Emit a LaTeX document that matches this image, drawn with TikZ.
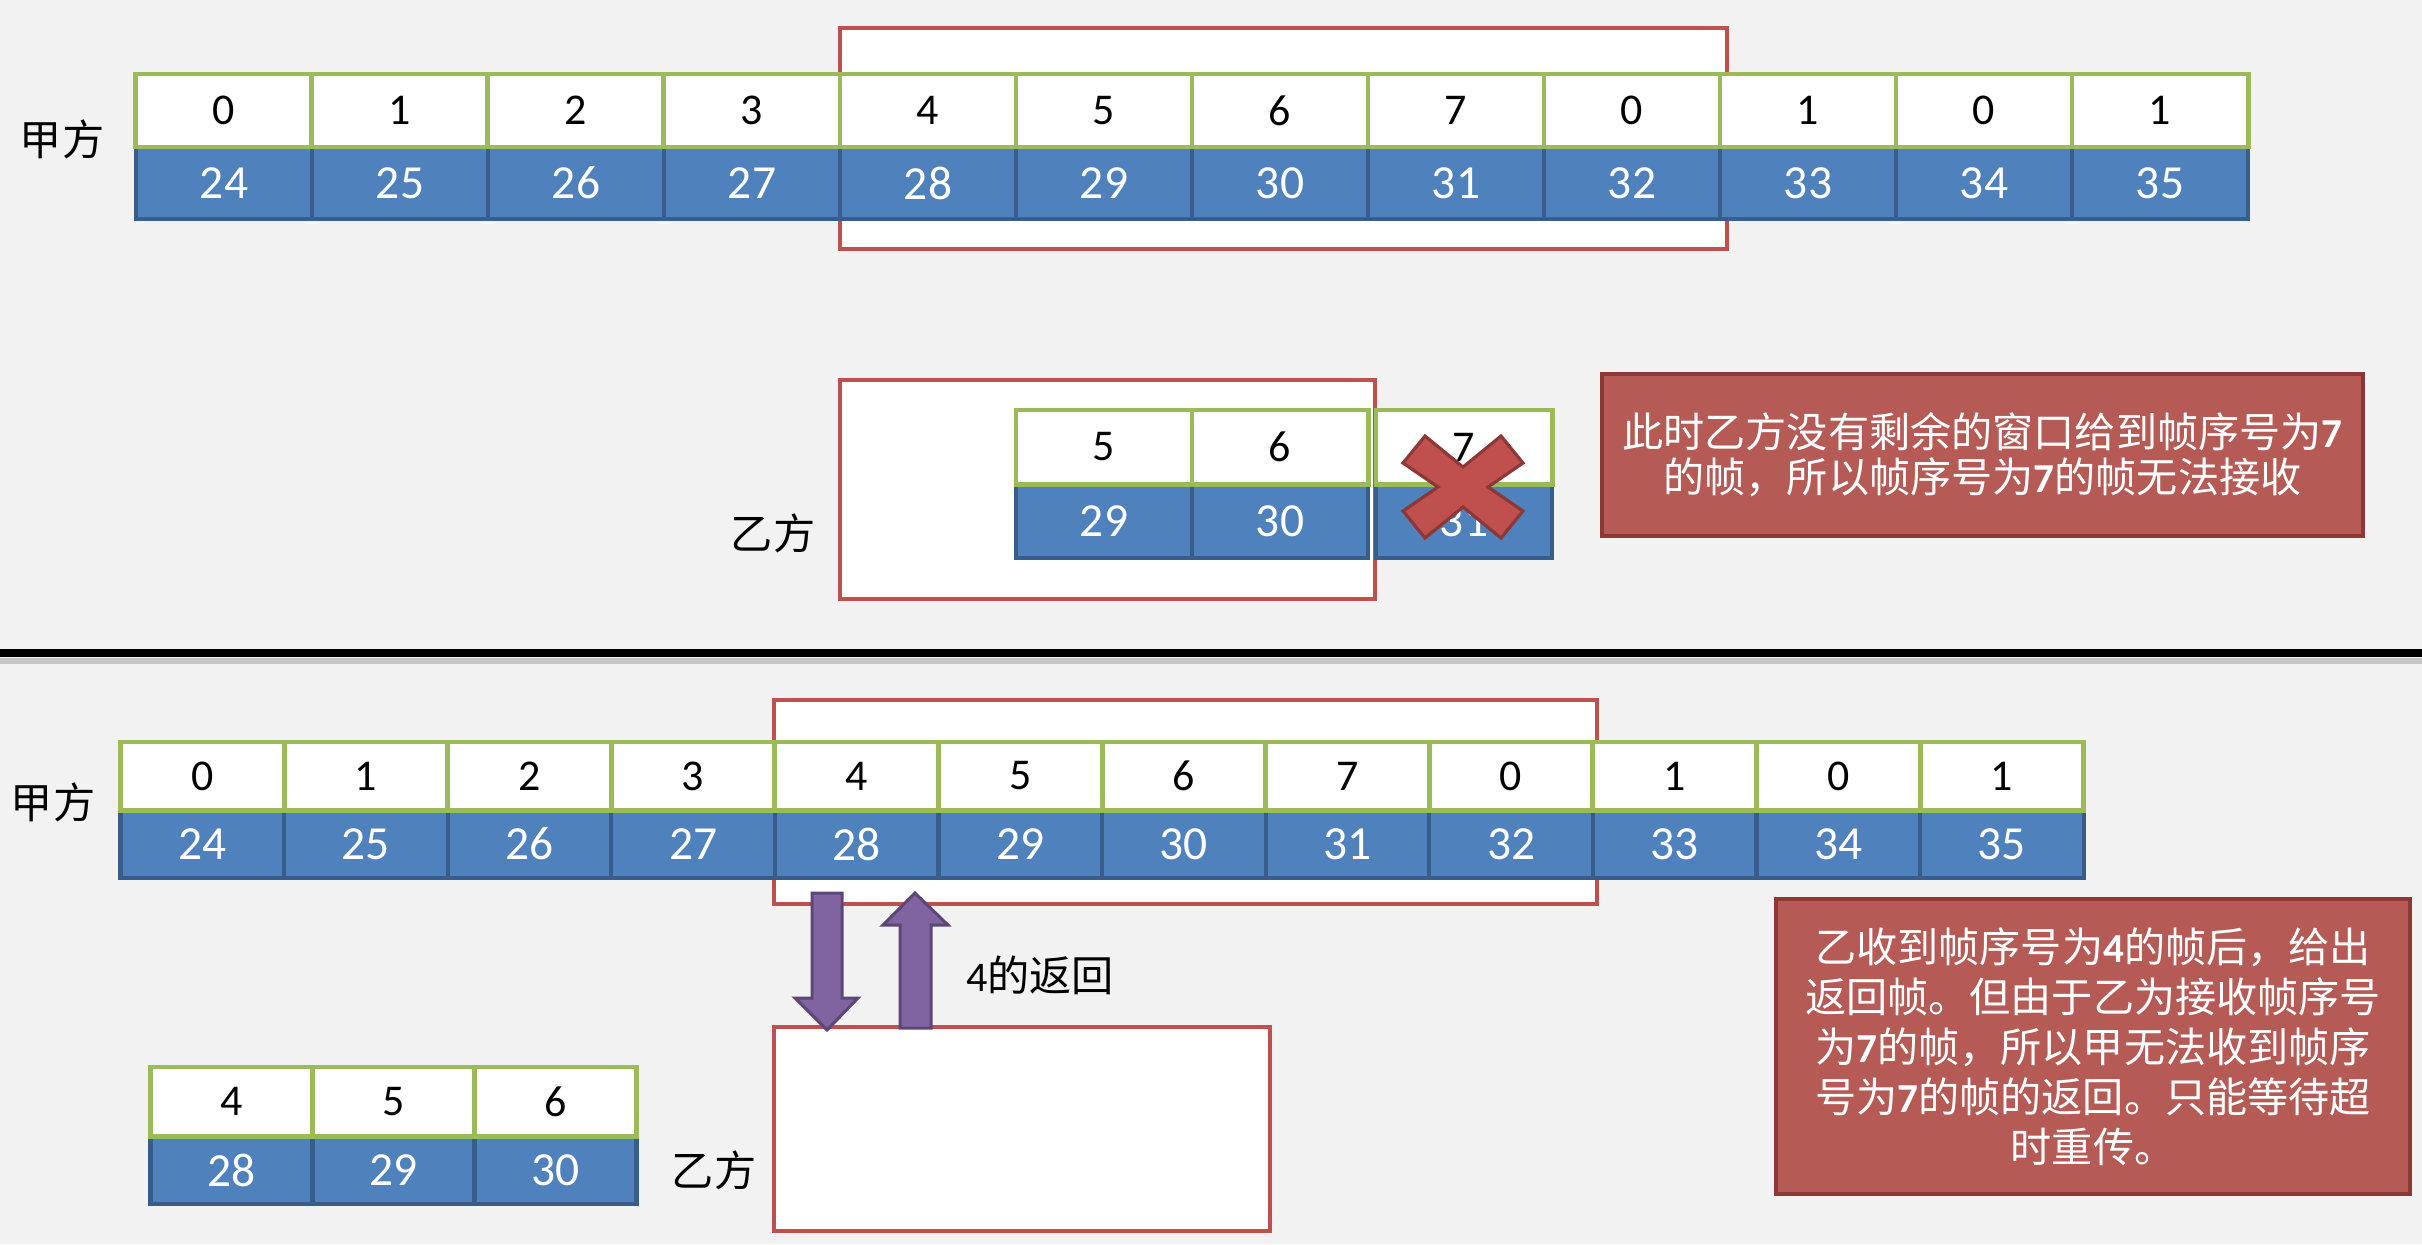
\documentclass[tikz,border=0pt]{standalone}
\usepackage{fontspec}
\setmainfont{Carlito}
\newfontfamily\cjk{Noto Sans CJK SC}
\definecolor{bg}{HTML}{F2F2F2}
\definecolor{cellgreen}{HTML}{9BBB59}
\definecolor{cellblue}{HTML}{4F81BD}
\definecolor{cellbluedark}{HTML}{385D8A}
\definecolor{winred}{HTML}{C0504D}
\definecolor{calloutfill}{HTML}{B65A55}
\definecolor{calloutdraw}{HTML}{8C3836}
\definecolor{arrowfill}{HTML}{8064A2}
\definecolor{arrowdraw}{HTML}{5C4776}
\newcommand\bd[1]{{\normalfont\bfseries #1}}
\tikzset{
  seqcell/.style={draw=cellgreen, fill=white, line width=1.4pt, inner sep=0pt, outer sep=0pt,
    text=black, font=\fontsize{12.5}{14}\selectfont},
  framecell/.style={draw=cellbluedark, fill=cellblue, line width=1.2pt, inner sep=0pt, outer sep=0pt,
    text=white, font=\fontsize{13.5}{15}\selectfont},
  window/.style={draw=winred, fill=white, line width=1.15pt, inner sep=0pt, outer sep=0pt},
  callout/.style={draw=calloutdraw, fill=calloutfill, line width=1.15pt, inner sep=0pt, outer sep=0pt,
    text=white, align=center, font=\cjk\fontsize{11.7}{12.9}\selectfont},
  lbl/.style={inner sep=0pt, text=black, font=\cjk\fontsize{12}{14}\selectfont},
  blockarrow/.style={draw=arrowdraw, fill=arrowfill, line width=0.85pt, line join=miter},
  crossmark/.style={draw=calloutdraw, fill=winred, line width=0.9pt, line join=miter}
}
\begin{document}
\begin{tikzpicture}[x=0.01cm,y=-0.01cm]
\path[use as bounding box, fill=bg] (0,0) rectangle (2422,1244);

% ---------------- top part ----------------
\node[window, minimum width=8.87cm, minimum height=2.21cm] (winA) at (1283.5,138.5) {};
\node[lbl] (jiaA) at (62,139) {甲方};
\foreach \s [count=\i from 0] in {0,1,2,3,4,5,6,7,0,1,0,1} {
  \pgfmathtruncatemacro\f{24+\i}
  \node[framecell, minimum width=1.76cm, minimum height=0.72cm] (tb\i) at ({224+176*\i},183) {\f};
}
\foreach \s [count=\i from 0] in {0,1,2,3,4,5,6,7,0,1,0,1} {
  \node[seqcell, minimum width=1.76cm, minimum height=0.73cm] (ta\i) at ({224+176*\i},110.5) {\s};
}

% receiver window (top)
\node[window, minimum width=5.35cm, minimum height=2.19cm] (winB) at (1107.5,489.5) {};
\node[lbl] (yiA) at (773,533) {乙方};
\node[framecell, minimum width=1.76cm, minimum height=0.74cm] (mb5) at (1104,521) {29};
\node[framecell, minimum width=1.76cm, minimum height=0.74cm] (mb6) at (1280,521) {30};
\node[framecell, minimum width=1.76cm, minimum height=0.74cm] (mb7) at (1464,521) {31};
\node[seqcell, minimum width=1.76cm, minimum height=0.74cm] (ma5) at (1104,447) {5};
\node[seqcell, minimum width=1.76cm, minimum height=0.74cm] (ma6) at (1280,447) {6};
\node[seqcell, minimum width=1.76cm, minimum height=0.74cm] (ma7) at (1464,447) {7};

% red cross over frame 7
\begin{scope}[shift={(1463,487)}]
\filldraw[crossmark] (0,-20) -- (38,-51) -- (60,-24) -- (25,0) -- (60,24) -- (38,51)
  -- (0,20) -- (-38,51) -- (-60,24) -- (-25,0) -- (-60,-24) -- (-38,-51) -- cycle;
\end{scope}

\node[callout, minimum width=7.61cm, minimum height=1.62cm] (noteA) at (1982.5,455)
  {此时乙方没有剩余的窗口给到帧序号为\bd{7}\\的帧，所以帧序号为\bd{7}的帧无法接收};

% separator
\draw[gray!45, line width=1.8pt] (0,661) -- (2422,661);
\draw[black, line width=2.3pt] (0,653) -- (2422,653);

% ---------------- bottom part ----------------
\node[window, minimum width=8.23cm, minimum height=2.04cm] (winC) at (1185.5,802) {};
\node[lbl] (jiaB) at (53,802) {甲方};
\foreach \s [count=\i from 0] in {0,1,2,3,4,5,6,7,0,1,0,1} {
  \pgfmathtruncatemacro\f{24+\i}
  \node[framecell, minimum width=1.636cm, minimum height=0.68cm] (bb\i) at ({202.3+163.6*\i},844) {\f};
}
\foreach \s [count=\i from 0] in {0,1,2,3,4,5,6,7,0,1,0,1} {
  \node[seqcell, minimum width=1.636cm, minimum height=0.68cm] (ba\i) at ({202.3+163.6*\i},776) {\s};
}

\node[window, minimum width=4.96cm, minimum height=2.04cm] (winD) at (1022,1129) {};
\node[lbl] (yiB) at (714,1170) {乙方};

% block arrows between windows
\filldraw[blockarrow] (812,893) -- (842,893) -- (842,998) -- (858,998) -- (827,1030)
  -- (795,998) -- (812,998) -- cycle;
\filldraw[blockarrow] (900,1028) -- (931,1028) -- (931,925) -- (948,925) -- (915,893)
  -- (883,925) -- (900,925) -- cycle;
\node[lbl] (ret4) at (1040,975) {{\normalfont 4}的返回};

% receiver buffer (bottom left)
\foreach \s/\f [count=\i from 0] in {4/28,5/29,6/30} {
  \node[framecell, minimum width=1.62cm, minimum height=0.68cm] (cb\i) at ({231.5+162*\i},1170) {\f};
}
\foreach \s/\f [count=\i from 0] in {4/28,5/29,6/30} {
  \node[seqcell, minimum width=1.62cm, minimum height=0.69cm] (ca\i) at ({231.5+162*\i},1101.5) {\s};
}

\node[callout, minimum width=6.34cm, minimum height=2.95cm, font=\cjk\fontsize{11.7}{14.2}\selectfont] (noteB) at (2093,1046.5)
  {乙收到帧序号为\bd{4}的帧后，给出\\返回帧。但由于乙为接收帧序号\\为\bd{7}的帧，所以甲无法收到帧序\\号为\bd{7}的帧的返回。只能等待超\\时重传。};
\end{tikzpicture}
\end{document}
